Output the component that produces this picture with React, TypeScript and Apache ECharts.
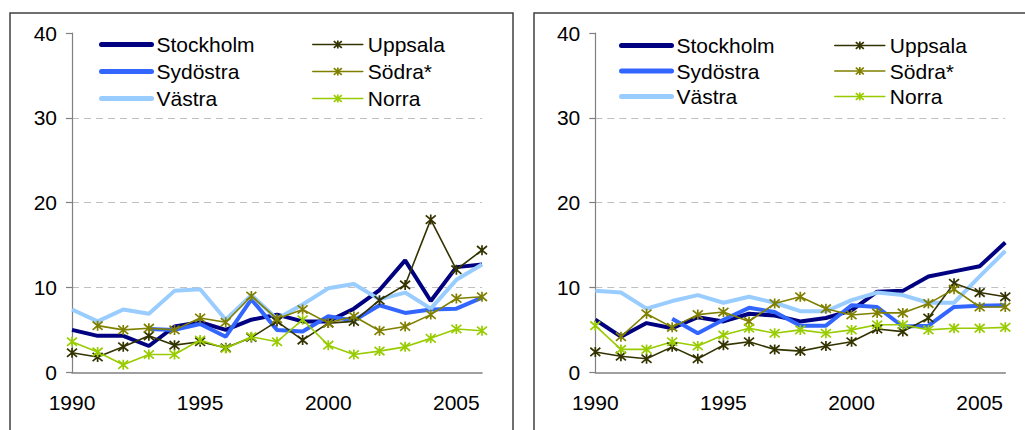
import React, { useEffect, useRef } from "react";
import * as echarts from "echarts";

const years = ["1990","1991","1992","1993","1994","1995","1996","1997","1998","1999","2000","2001","2002","2003","2004","2005","2006"];
const yTicks = { min: 0, max: 40, interval: 10 };
const seriesNames = ["Stockholm", "Sydöstra", "Västra", "Uppsala", "Södra*", "Norra"];

// Left panel
const leftStockholm = [5.0,4.3,4.3,3.1,5.4,5.9,5.0,6.2,6.8,6.0,6.0,7.5,9.7,13.2,8.4,12.4,12.7];
const leftSydostra = [null,null,null,5.1,5.0,5.7,4.2,8.6,5.0,4.8,6.6,6.1,7.9,7.0,7.4,7.5,8.8];
const leftVastra = [7.4,6.0,7.4,6.9,9.6,9.8,6.2,9.1,6.3,8.0,9.9,10.4,8.6,9.4,7.5,10.9,12.7];
const leftUppsala = [2.3,1.8,3.0,4.3,3.2,3.6,2.9,4.1,6.0,3.8,5.8,6.0,8.5,10.3,18.0,12.1,14.4];
const leftSodra = [null,5.5,5.0,5.2,5.0,6.4,5.9,9.0,6.3,7.4,5.8,6.6,4.9,5.4,6.8,8.7,8.9];
const leftNorra = [3.6,2.4,0.9,2.1,2.1,3.8,2.8,4.2,3.6,6.2,3.2,2.1,2.5,3.0,4.0,5.1,4.9];

// Right panel
const rightStockholm = [6.2,4.2,5.8,5.2,6.5,6.0,6.9,6.7,6.0,6.4,7.3,9.5,9.6,11.3,11.9,12.5,15.3];
const rightSydostra = [null,null,null,6.3,4.6,6.2,7.6,7.1,5.5,5.5,7.9,7.7,5.4,5.5,7.7,7.85,7.9];
const rightVastra = [9.6,9.4,7.5,8.4,9.1,8.2,8.9,8.2,7.2,7.2,8.5,9.4,9.1,8.2,8.2,11.3,14.3];
const rightUppsala = [2.4,1.9,1.6,3.0,1.6,3.2,3.6,2.7,2.5,3.1,3.6,5.1,4.8,6.4,10.5,9.4,8.9];
const rightSodra = [null,4.2,6.9,5.3,6.8,7.1,6.0,8.1,8.9,7.5,6.75,7.0,7.0,8.1,9.8,7.7,7.7];
const rightNorra = [5.5,2.7,2.7,3.6,3.1,4.4,5.2,4.6,5.0,4.6,5.0,5.6,5.6,5.0,5.2,5.2,5.3];

const colors: Record<string, string> = {
  "Stockholm": "#000080",
  "Sydöstra": "#3366FF",
  "Västra": "#99CCFF",
  "Uppsala": "#333300",
  "Södra*": "#808000",
  "Norra": "#99CC00",
};

const STAR = "path://M0,0 L10,10 M10,0 L0,10 M5,-1 L5,11";
const FONT = "Liberation Sans, Arial, sans-serif";

export default function App() {
  const ref = useRef<HTMLDivElement>(null);
  useEffect(() => {
    document.body.style.margin = "0";
    if (!ref.current) return;
    const chart = echarts.init(ref.current, undefined, { renderer: "svg" });

    const panels = [
      { data: [leftStockholm, leftSydostra, leftVastra, leftUppsala, leftSodra, leftNorra] },
      { data: [rightStockholm, rightSydostra, rightVastra, rightUppsala, rightSodra, rightNorra] },
    ];
    const drawOrder = [0, 3, 1, 4, 2, 5];

    const series: any[] = [];
    panels.forEach((p, gi) => {
      drawOrder.forEach((si) => {
        const name = seriesNames[si];
        const thick = si < 3;
        series.push({
          type: "line",
          name,
          xAxisIndex: gi,
          yAxisIndex: gi,
          data: p.data[si],
          connectNulls: false,
          symbol: thick ? "none" : STAR,
          symbolSize: 10,
          showSymbol: !thick,
          lineStyle: { color: colors[name], width: thick ? 4 : 1.6 },
          itemStyle: { color: colors[name], borderColor: colors[name], borderWidth: 1.7 },
          emphasis: { disabled: true },
          z: thick ? 2 : 3,
        });
      });
    });

    const xAxisBase = (gi: number) => ({
      type: "category",
      gridIndex: gi,
      data: years,
      boundaryGap: false,
      axisLine: { lineStyle: { color: "#808080", width: 1.5 } },
      axisTick: { show: false },
      axisLabel: {
        interval: (idx: number) => idx % 5 === 0,
        color: "#000",
        fontSize: 21,
        fontFamily: FONT,
        margin: 20,
      },
      splitLine: { show: false },
    });
    const yAxisBase = (gi: number) => ({
      type: "value",
      gridIndex: gi,
      min: yTicks.min,
      max: yTicks.max,
      interval: yTicks.interval,
      axisLine: { show: true, lineStyle: { color: "#808080", width: 1.2 } },
      axisTick: { show: true, length: 6, lineStyle: { color: "#808080", width: 1.2 } },
      axisLabel: { color: "#000", fontSize: 21, fontFamily: FONT, margin: 15 },
      splitLine: {
        show: true,
        showMaxLine: false,
        showMinLine: false,
        lineStyle: { color: "#c0c0c0", type: [7, 5], width: 1 },
      },
    });

    const legendBase = (left: number, top: number, names: string[], gap: number) => ({
      orient: "vertical",
      left,
      top,
      padding: 0,
      itemWidth: 50,
      itemHeight: 10,
      itemGap: gap,
      selectedMode: false,
      textStyle: { color: "#000", fontSize: 21, fontFamily: FONT, lineHeight: 21 },
      data: names.map((n) => {
        const thick = seriesNames.indexOf(n) < 3;
        return {
          name: n,
          lineStyle: { width: thick ? 5 : 1.6, color: colors[n], cap: "round" },
          itemStyle: thick
            ? { color: colors[n], opacity: 0, borderWidth: 0 }
            : { color: colors[n], borderColor: colors[n], borderWidth: 1.7 },
        };
      }),
    });

    chart.setOption({
      animation: false,
      grid: [
        { left: 72, top: 33, width: 410, height: 339.3 },
        { left: 595.3, top: 33, width: 410, height: 339.3 },
      ],
      xAxis: [xAxisBase(0), xAxisBase(1)],
      yAxis: [yAxisBase(0), yAxisBase(1)],
      legend: [
        legendBase(99, 34, ["Stockholm", "Sydöstra", "Västra"], 6),
        legendBase(312, 34, ["Uppsala", "Södra*", "Norra"], 6),
        legendBase(619, 35, ["Stockholm", "Sydöstra", "Västra"], 4.5),
        legendBase(834, 35, ["Uppsala", "Södra*", "Norra"], 4.5),
      ],
      graphic: [
        {
          type: "rect",
          shape: { x: 10, y: 13, width: 503, height: 500 },
          style: { fill: "none", stroke: "#404040", lineWidth: 1.5 },
          silent: true,
        },
        {
          type: "rect",
          shape: { x: 534, y: 13, width: 600, height: 500 },
          style: { fill: "none", stroke: "#404040", lineWidth: 1.5 },
          silent: true,
        },
      ],
      series,
    });
    return () => chart.dispose();
  }, []);
  return <div ref={ref} style={{ width: 1025, height: 430 }} />;
}
